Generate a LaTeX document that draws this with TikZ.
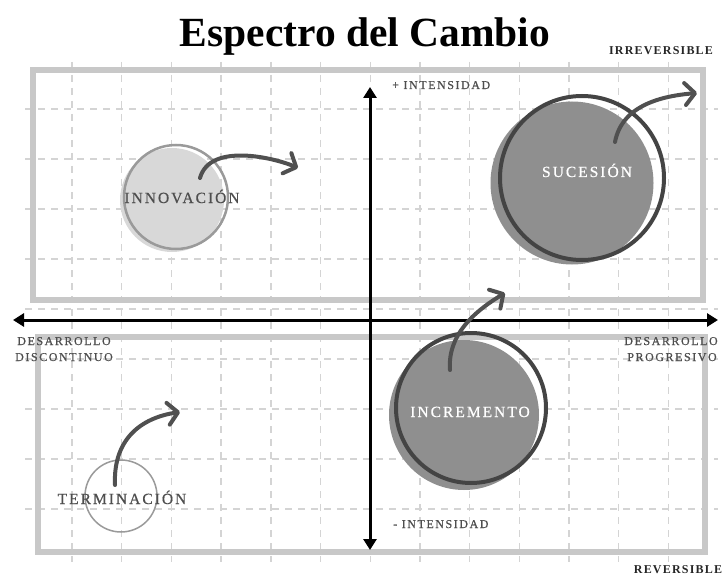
\documentclass[tikz,border=0pt]{standalone}
\usepackage{fontspec}
\setmainfont{Liberation Serif}
\newfontfamily\spaced[LetterSpace=13, FakeBold=0.6]{Liberation Serif}
\newfontfamily\spacedb[LetterSpace=10]{Liberation Serif}
\usetikzlibrary{arrows.meta}
\definecolor{gridc}{HTML}{D4D4D4}
\definecolor{framec}{HTML}{C8C8C8}
\definecolor{labc}{HTML}{4E4E4E}
\definecolor{arrc}{HTML}{505050}
\definecolor{darkfill}{HTML}{8F8F8F}
\definecolor{lightfill}{HTML}{D8D8D8}
\definecolor{darkring}{HTML}{444444}
\definecolor{lightring}{HTML}{9A9A9A}
\tikzset{
  gridline/.style={draw=gridc, line width=1.4pt, dash pattern=on 7pt off 6pt},
  frame/.style={draw=framec, line width=6pt},
  axisline/.style={line width=3pt, draw=black, {Triangle[length=11pt,width=13pt]}-{Triangle[length=11pt,width=13pt]}},
  curvarrow/.style={draw=arrc, line width=4pt, line cap=round, -{Straight Barb[round,length=10pt,width=22pt]}},
  disc/.style={circle, inner sep=0pt, draw=none},
  lab/.style={inner sep=0pt, anchor=base, text=labc, font=\spaced\fontsize{12}{12}\selectfont},
  blab/.style={inner sep=0pt, anchor=base, text=labc, font=\spaced\fontsize{15.5}{15}\selectfont},
  wlab/.style={inner sep=0pt, anchor=base, text=white, font=\spaced\fontsize{15.5}{15}\selectfont},
  side/.style={inner sep=0pt, anchor=base, text=black!85, font=\spacedb\bfseries\fontsize{12}{12}\selectfont},
}
\begin{document}
\begin{tikzpicture}[x=1pt,y=-1pt]
\useasboundingbox (0,0) rectangle (723,575);
% grid
\foreach \k in {0,...,12}{
  \draw[gridline] ({72+49.7*\k},62) -- ({72+49.7*\k},562);
}
\foreach \k in {0,...,8}{
  \draw[gridline] (25,{109+50*\k}) -- (718,{109+50*\k});
}
% frames
\draw[frame] (33,70) rectangle (703,300);
\draw[frame] (38,337) rectangle (705,552);
% title
\node[anchor=base, inner sep=0pt, font=\fontsize{41.5}{42}\selectfont\bfseries] (title) at (365,47) {Espectro del Cambio};
% axes
\coordinate (axL) at (13,320);
\coordinate (axR) at (718,320);
\coordinate (axT) at (370,87);
\coordinate (axB) at (370,550);
\draw[axisline] (axL) -- (axR);
\draw[axisline] (axB) -- (axT);
% circles
\node[disc, fill=lightfill, minimum size=104pt] (innovfill) at (172,200) {};
\node[disc, draw=lightring, line width=2.5pt, minimum size=104pt] (innov) at (176,197) {};
\node[disc, fill=darkfill, minimum size=163pt] (sucfill) at (572,183) {};
\node[disc, draw=darkring, line width=4pt, minimum size=164pt] (suc) at (582,178) {};
\node[disc, fill=darkfill, minimum size=150pt] (incfill) at (464,415) {};
\node[disc, draw=darkring, line width=4pt, minimum size=150pt] (inc) at (471,408) {};
\node[disc, draw=lightring, line width=1.5pt, minimum size=72pt] (term) at (121,496) {};
% circle labels
\node[blab] (tinnov) at (182,203) {INNOVACIÓN};
\node[wlab] (tsuc) at (587,177) {SUCESIÓN};
\node[wlab] (tinc) at (470,417) {INCREMENTO};
\node[blab] (tterm) at (122,504) {TERMINACIÓN};
% axis labels
\node[lab, anchor=base west] (intplus) at (392,89) {+ INTENSIDAD};
\node[lab, anchor=base west] (intminus) at (393,528) {- INTENSIDAD};
\node[lab] (dleft1) at (64,345) {DESARROLLO};
\node[lab] (dleft2) at (64,361) {DISCONTINUO};
\node[lab] (dright1) at (671,345) {DESARROLLO};
\node[lab] (dright2) at (672,361) {PROGRESIVO};
\node[side] (irrev) at (661,55) {IRREVERSIBLE};
\node[side] (rev) at (678,573) {REVERSIBLE};
% curved arrows
\coordinate (innovS) at (200,178);
\coordinate (innovE) at (298,168);
\coordinate (sucS) at (615,142);
\coordinate (sucE) at (697,93);
\coordinate (incS) at (450,370);
\coordinate (incE) at (505,293);
\coordinate (termS) at (115,485);
\coordinate (termE) at (180,412);
\draw[curvarrow] (innovS) .. controls (210,142) and (275,158) .. (innovE);
\draw[curvarrow] (sucS) .. controls (622,105) and (662,96) .. (sucE);
\draw[curvarrow] (incS) .. controls (447,332) and (480,308) .. (incE);
\draw[curvarrow] (termS) .. controls (113,440) and (140,418) .. (termE);
\end{tikzpicture}
\end{document}
